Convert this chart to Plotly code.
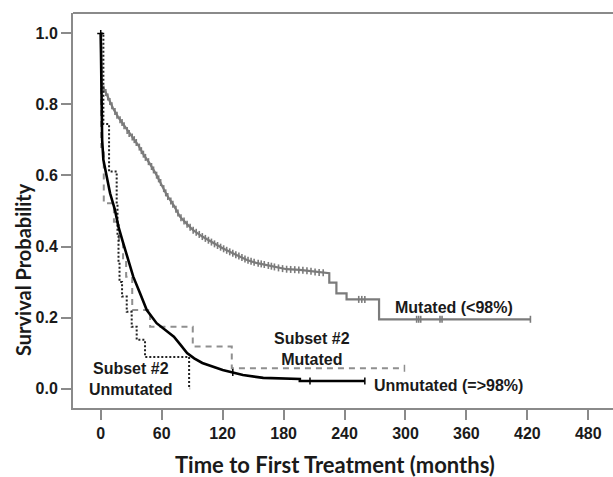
import numpy as np
import plotly.graph_objects as go

# ---- data (months, survival probability) ----
mut_t = [0, 0.3, 1, 4, 8, 12, 17, 22, 27, 32, 37, 43, 48, 54, 60, 65, 72, 78, 85, 91, 100,
         111, 120, 127, 136, 144, 153, 163, 176, 183, 196, 203, 212, 222, 225, 225, 232, 232,
         242, 242, 274, 274, 423]
mut_s = [1.0, 0.87, 0.85, 0.84, 0.815, 0.79, 0.765, 0.745, 0.722, 0.705, 0.685, 0.655, 0.635,
         0.606, 0.575, 0.545, 0.515, 0.484, 0.463, 0.446, 0.428, 0.409, 0.395, 0.385, 0.373,
         0.362, 0.354, 0.348, 0.339, 0.336, 0.334, 0.332, 0.328, 0.325, 0.325, 0.298, 0.298,
         0.268, 0.268, 0.251, 0.251, 0.195, 0.195]
mut_censor_t = [3, 5, 7, 9, 11, 14, 16, 19, 21, 23, 26, 28, 31, 33, 35, 38, 40, 42, 44, 47, 50,
                52, 55, 57, 59, 62, 64, 66, 69, 71, 74, 76, 79, 82, 85, 88, 91, 94, 97, 100, 103,
                106, 109, 112, 115, 118, 121, 124, 127, 130, 133, 136, 139, 142, 145, 148, 151,
                155, 158, 161, 165, 168, 171, 175, 179, 183, 187, 191, 195, 199, 203, 207, 211,
                215, 219, 254, 257, 260, 311, 313, 315, 334, 336, 423]

unm_t = [0, 0.4, 0.8, 1.4, 2.6, 5.9, 9.2, 14, 17.4, 22.2, 27.2, 32, 38.7, 45.3, 55, 62, 67, 72,
         78, 85, 92, 100, 110, 120, 130, 140, 160, 186, 196, 196, 260]
unm_s = [1.0, 0.82, 0.75, 0.70, 0.644, 0.597, 0.55, 0.503, 0.456, 0.409, 0.362, 0.315, 0.268,
         0.221, 0.184, 0.168, 0.158, 0.146, 0.125, 0.10, 0.085, 0.072, 0.062, 0.052, 0.045,
         0.038, 0.030, 0.027, 0.027, 0.021, 0.021]
unm_censor_t = [130, 206, 260]

s2m_t = [0, 0.5, 3, 13, 18, 22, 25, 31, 48.6, 90.6, 129, 299]
s2m_s = [1.0, 0.68, 0.522, 0.47, 0.41, 0.36, 0.315, 0.221, 0.174, 0.118, 0.057, 0.057]
s2m_censor_t = [299]

s2u_t = [0, 2.6, 8.2, 15.7, 16.5, 17.5, 18.5, 21, 25.6, 30.5, 35.4, 43.6, 87, 88]
s2u_s = [1.0, 0.745, 0.611, 0.52, 0.43, 0.36, 0.30, 0.259, 0.216, 0.174, 0.137, 0.089, 0.0, 0.0]

x_ticks = [0, 60, 120, 180, 240, 300, 360, 420, 480]
y_ticks = [0.0, 0.2, 0.4, 0.6, 0.8, 1.0]
y_tick_text = ["0.0", "0.2", "0.4", "0.6", "0.8", "1.0"]


def value_at(ts, ss, q):
    arr_t = np.array(ts)
    idx = np.searchsorted(arr_t, np.array(q), side="right") - 1
    return list(np.array(ss)[idx])


def value_lin(ts, ss, q):
    return list(np.interp(q, ts, ss))


GRAY = "#7b7b7b"
DGRAY = "#8f8f8f"
AX = "#8a8a8a"
TXT = "#1a1a1a"

fig = go.Figure()

fig.add_trace(go.Scatter(x=mut_t, y=mut_s, mode="lines", line=dict(color=GRAY, width=2.2),
                         showlegend=False, hoverinfo="skip"))
fig.add_trace(go.Scatter(x=mut_censor_t, y=value_lin(mut_t, mut_s, mut_censor_t), mode="markers",
                         marker=dict(symbol="line-ns", size=5, line=dict(color=GRAY, width=1.6)),
                         showlegend=False, hoverinfo="skip"))

fig.add_trace(go.Scatter(x=s2m_t, y=s2m_s, mode="lines",
                         line=dict(color=DGRAY, width=2, dash="6px,5px", shape="hv"),
                         showlegend=False, hoverinfo="skip"))
fig.add_trace(go.Scatter(x=s2m_censor_t, y=value_at(s2m_t, s2m_s, s2m_censor_t), mode="markers",
                         marker=dict(symbol="line-ns", size=5, line=dict(color=DGRAY, width=1.5)),
                         showlegend=False, hoverinfo="skip"))

fig.add_trace(go.Scatter(x=s2u_t, y=s2u_s, mode="lines",
                         line=dict(color="#222222", width=2, dash="2px,2px", shape="hv"),
                         showlegend=False, hoverinfo="skip"))

fig.add_trace(go.Scatter(x=unm_t, y=unm_s, mode="lines", line=dict(color="#000000", width=2.6),
                         showlegend=False, hoverinfo="skip"))
fig.add_trace(go.Scatter(x=unm_censor_t, y=value_lin(unm_t, unm_s, unm_censor_t), mode="markers",
                         marker=dict(symbol="line-ns", size=5, line=dict(color="#000000", width=1.5)),
                         showlegend=False, hoverinfo="skip"))
fig.add_trace(go.Scatter(x=[0], y=[1.0], mode="markers",
                         marker=dict(symbol="cross-thin", size=5, line=dict(color="#000000", width=1.5)),
                         showlegend=False, hoverinfo="skip"))

tick_font = dict(family="Liberation Sans, Arial, sans-serif", size=16, color=TXT, weight="bold")
ann_font = dict(family="Liberation Sans, Arial, sans-serif", size=16, color=TXT, weight="bold")

fig.update_layout(
    width=613, height=477,
    margin=dict(l=73, r=0, t=13, b=69),
    paper_bgcolor="white", plot_bgcolor="white",
    xaxis=dict(range=[-27.3, 504.3], tickvals=x_ticks, ticktext=[str(v) for v in x_ticks],
               ticks="outside", ticklen=10, tickwidth=1.5, tickcolor=AX,
               showline=True, linecolor=AX, linewidth=2, showgrid=False, zeroline=False,
               tickfont=tick_font),
    yaxis=dict(range=[-0.0549, 1.0577], tickvals=y_ticks, ticktext=y_tick_text,
               ticks="outside", ticklen=10, tickwidth=1.5, tickcolor=AX,
               showline=True, linecolor=AX, linewidth=2, showgrid=False, zeroline=False,
               tickfont=tick_font),
    shapes=[dict(type="line", xref="paper", yref="paper", x0=0, x1=1, y0=1, y1=1,
                 line=dict(color=AX, width=2))],
)

annotations = [
    dict(text="Mutated (<98%)", x=454, y=307, font=ann_font),
    dict(text="Unmutated (=>98%)", x=448, y=385, font=ann_font),
    dict(text="Subset #2<br>Mutated", x=312, y=349, font=ann_font),
    dict(text="Subset #2<br>Unmutated", x=131, y=379, font=ann_font),
]
for a in annotations:
    a.update(xref="paper", yref="paper", showarrow=False, align="center",
             xanchor="center", yanchor="middle")
    a["x"] = (a["x"] - 73) / (613 - 73)
    a["y"] = (408 - a["y"]) / (408 - 13)
fig.update_layout(annotations=annotations)

fig.add_annotation(text="Time to First Treatment (months)", xref="paper", yref="paper",
                   x=(334.5 - 73) / 540, y=(408 - 464) / 395, xanchor="center", yanchor="middle",
                   showarrow=False, font=dict(family="Lato, Open Sans, sans-serif", size=22,
                                              color=TXT, weight="bold"))
fig.add_annotation(text="Survival Probability", xref="paper", yref="paper",
                   x=(23 - 73) / 540, y=(408 - 270) / 395, xanchor="center", yanchor="middle",
                   textangle=-90, showarrow=False,
                   font=dict(family="Lato, Open Sans, sans-serif", size=20, color=TXT, weight="bold"))

fig.write_html("out.html")
